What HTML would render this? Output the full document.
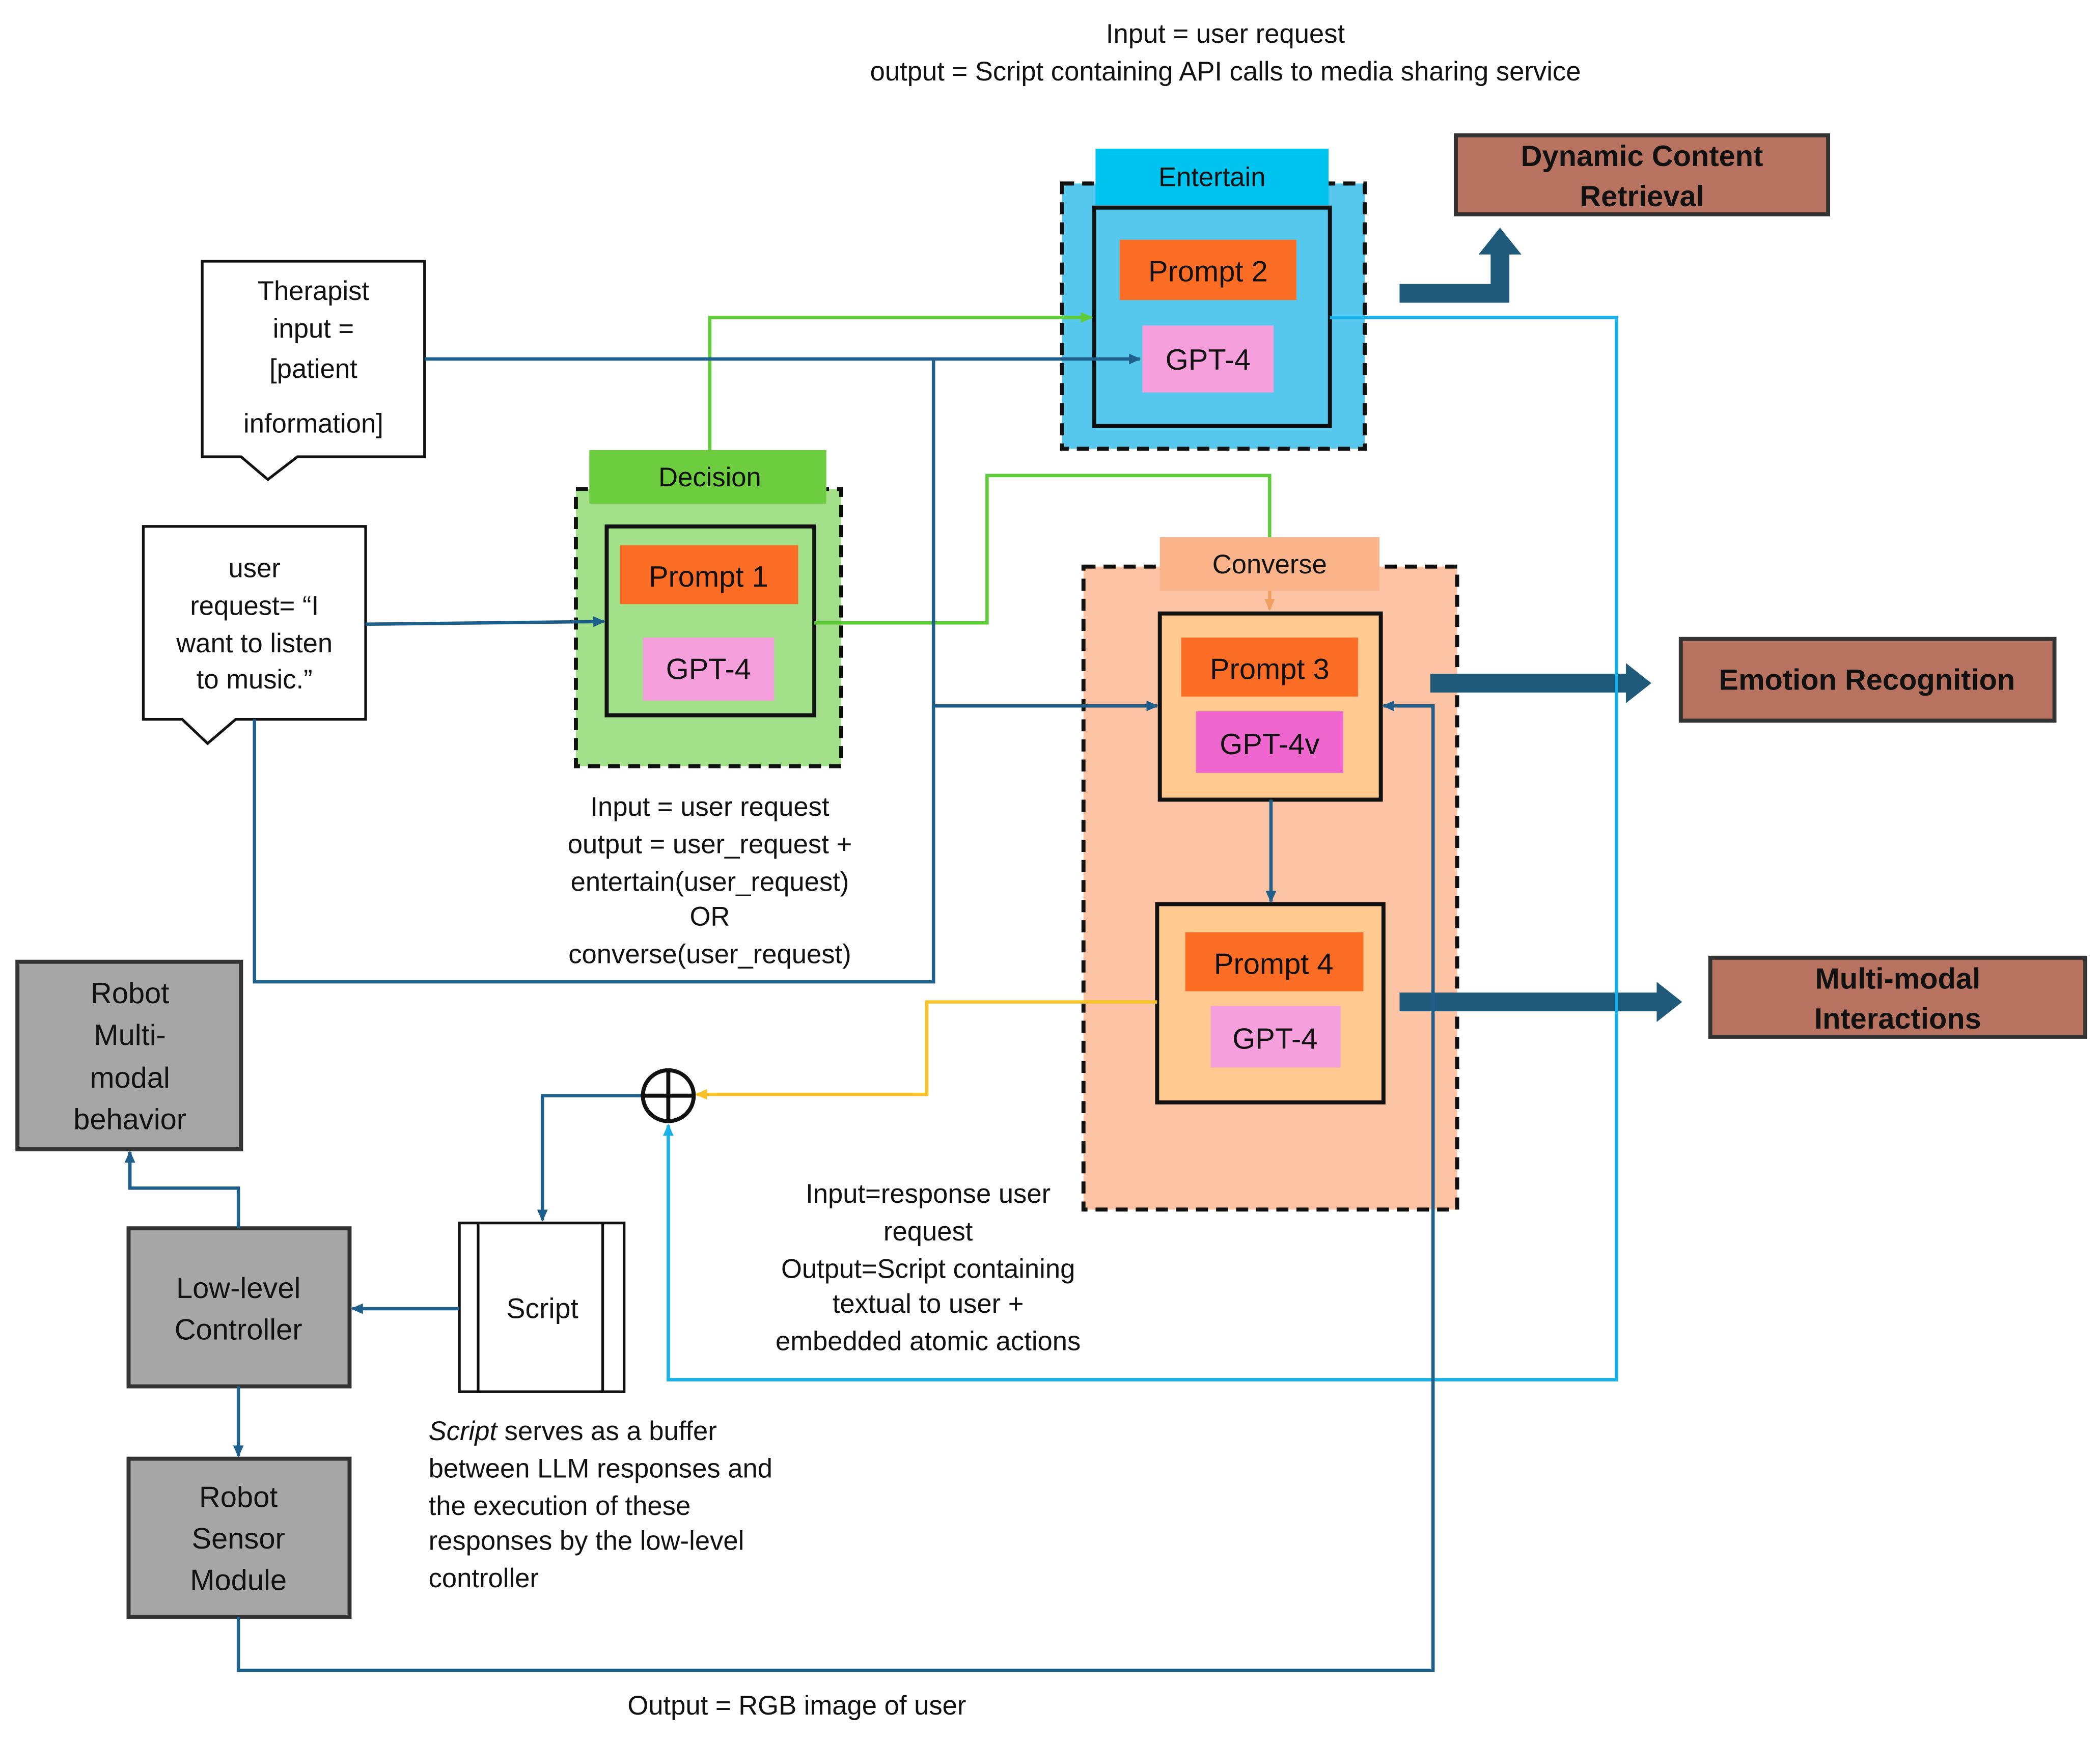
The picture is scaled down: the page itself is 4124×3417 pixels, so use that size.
<!DOCTYPE html>
<html><head><meta charset="utf-8"><style>
html,body{margin:0;padding:0;background:#fff;}
svg{display:block;}
text{font-family:"Liberation Sans",sans-serif;fill:#111;}
</style></head><body>
<svg width="4124" height="3417" viewBox="0 0 1568 1299" preserveAspectRatio="none" xmlns="http://www.w3.org/2000/svg">
<defs>
<marker id="ab" markerWidth="10" markerHeight="10" refX="8" refY="5" orient="auto" markerUnits="userSpaceOnUse"><path d="M0,1 L9,5 L0,9 z" fill="#1f5f8b"/></marker>
<marker id="ag" markerWidth="10" markerHeight="10" refX="8" refY="5" orient="auto" markerUnits="userSpaceOnUse"><path d="M0,1 L9,5 L0,9 z" fill="#5fcc3a"/></marker>
<marker id="al" markerWidth="10" markerHeight="10" refX="8" refY="5" orient="auto" markerUnits="userSpaceOnUse"><path d="M0,1 L9,5 L0,9 z" fill="#1ab0e8"/></marker>
<marker id="ay" markerWidth="10" markerHeight="10" refX="8" refY="5" orient="auto" markerUnits="userSpaceOnUse"><path d="M0,1 L9,5 L0,9 z" fill="#f8c12a"/></marker>
<marker id="ao" markerWidth="10" markerHeight="10" refX="8" refY="5" orient="auto" markerUnits="userSpaceOnUse"><path d="M0,1 L9,5 L0,9 z" fill="#f0a060"/></marker>
</defs>
<rect width="1568" height="1299" fill="#fff"/>
<text x="915" y="32" font-size="20" text-anchor="middle">Input = user request</text>
<text x="915" y="60" font-size="20" text-anchor="middle">output = Script containing API calls to media sharing service</text>

<!-- Entertain -->
<rect x="793" y="137" width="226" height="198" fill="#56c8ee" stroke="#111" stroke-width="3" stroke-dasharray="9,6"/>
<rect x="818" y="111" width="174" height="42" fill="#00c4f0"/>
<text x="905" y="139" font-size="20" text-anchor="middle">Entertain</text>
<rect x="817" y="155" width="176" height="163" fill="#56c8ee" stroke="#111" stroke-width="3"/>
<rect x="836" y="179" width="132" height="45" fill="#fb6c25"/>
<text x="902" y="210" font-size="22" text-anchor="middle">Prompt 2</text>
<rect x="853" y="243" width="98" height="50" fill="#f5a0dc"/>
<text x="902" y="276" font-size="22" text-anchor="middle">GPT-4</text>

<!-- Dynamic -->
<rect x="1087" y="101" width="278" height="59" fill="#b87360" stroke="#333" stroke-width="3"/>
<text x="1226" y="124" font-size="22" font-weight="bold" text-anchor="middle">Dynamic Content</text>
<text x="1226" y="154" font-size="22" font-weight="bold" text-anchor="middle">Retrieval</text>
<path d="M1045,212 L1113,212 L1113,190 L1104,190 L1120,170 L1136,190 L1127,190 L1127,226 L1045,226 z" fill="#1f5a7a"/>

<!-- Therapist callout -->
<path d="M151,195 L317,195 L317,341 L222,341 L200,358 L180,341 L151,341 z" fill="#fff" stroke="#111" stroke-width="2"/>
<text x="234" y="224" font-size="20" text-anchor="middle">Therapist</text>
<text x="234" y="252" font-size="20" text-anchor="middle">input =</text>
<text x="234" y="282" font-size="20" text-anchor="middle">[patient</text>
<text x="234" y="323" font-size="20" text-anchor="middle">information]</text>

<!-- user request callout -->
<path d="M107,393 L273,393 L273,537 L176,537 L155,555 L136,537 L107,537 z" fill="#fff" stroke="#111" stroke-width="2"/>
<text x="190" y="431" font-size="20" text-anchor="middle">user</text>
<text x="190" y="459" font-size="20" text-anchor="middle">request= “I</text>
<text x="190" y="487" font-size="20" text-anchor="middle">want to listen</text>
<text x="190" y="514" font-size="20" text-anchor="middle">to music.”</text>

<!-- Decision -->
<rect x="430" y="365" width="198" height="207" fill="#a3e08a" stroke="#111" stroke-width="3" stroke-dasharray="9,6"/>
<rect x="440" y="336" width="177" height="40" fill="#6ccd3e"/>
<text x="530" y="363" font-size="20" text-anchor="middle">Decision</text>
<rect x="453" y="393" width="155" height="141" fill="#a3e08a" stroke="#111" stroke-width="3"/>
<rect x="463" y="407" width="133" height="44" fill="#fb6c25"/>
<text x="529" y="438" font-size="22" text-anchor="middle">Prompt 1</text>
<rect x="480" y="476" width="98" height="47" fill="#f5a0dc"/>
<text x="529" y="507" font-size="22" text-anchor="middle">GPT-4</text>
<text x="530" y="609" font-size="20" text-anchor="middle">Input = user request</text>
<text x="530" y="637" font-size="20" text-anchor="middle">output = user_request +</text>
<text x="530" y="665" font-size="20" text-anchor="middle">entertain(user_request)</text>
<text x="530" y="691" font-size="20" text-anchor="middle">OR</text>
<text x="530" y="719" font-size="20" text-anchor="middle">converse(user_request)</text>

<!-- Converse -->
<rect x="809" y="423" width="279" height="480" fill="#fcc4a4" stroke="#111" stroke-width="3" stroke-dasharray="9,6"/>
<rect x="866" y="401" width="164" height="40" fill="#fbb48a"/>
<text x="948" y="428" font-size="20" text-anchor="middle">Converse</text>
<rect x="866" y="458" width="165" height="139" fill="#ffc98f" stroke="#111" stroke-width="3"/>
<rect x="882" y="476" width="132" height="44" fill="#fb6c25"/>
<text x="948" y="507" font-size="22" text-anchor="middle">Prompt 3</text>
<rect x="893" y="531" width="110" height="46" fill="#ef66cf"/>
<text x="948" y="563" font-size="22" text-anchor="middle">GPT-4v</text>
<rect x="864" y="675" width="169" height="148" fill="#ffc98f" stroke="#111" stroke-width="3"/>
<rect x="885" y="696" width="133" height="44" fill="#fb6c25"/>
<text x="951" y="727" font-size="22" text-anchor="middle">Prompt 4</text>
<rect x="904" y="751" width="97" height="46" fill="#f5a0dc"/>
<text x="952" y="783" font-size="22" text-anchor="middle">GPT-4</text>
<text x="693" y="898" font-size="20" text-anchor="middle">Input=response user</text>
<text x="693" y="926" font-size="20" text-anchor="middle">request</text>
<text x="693" y="954" font-size="20" text-anchor="middle">Output=Script containing</text>
<text x="693" y="980" font-size="20" text-anchor="middle">textual to user +</text>
<text x="693" y="1008" font-size="20" text-anchor="middle">embedded atomic actions</text>

<!-- Emotion / multimodal -->
<rect x="1255" y="477" width="279" height="61" fill="#b87360" stroke="#333" stroke-width="3"/>
<text x="1394" y="515" font-size="22" font-weight="bold" text-anchor="middle">Emotion Recognition</text>
<path d="M1068,503 L1214,503 L1214,495 L1233,510 L1214,525 L1214,517 L1068,517 z" fill="#1f5a7a"/>
<rect x="1277" y="715" width="280" height="59" fill="#b87360" stroke="#333" stroke-width="3"/>
<text x="1417" y="738" font-size="22" font-weight="bold" text-anchor="middle">Multi-modal</text>
<text x="1417" y="768" font-size="22" font-weight="bold" text-anchor="middle">Interactions</text>
<path d="M1045,741 L1237,741 L1237,733 L1256,748 L1237,763 L1237,755 L1045,755 z" fill="#1f5a7a"/>

<!-- gray boxes -->
<rect x="13" y="718" width="167" height="140" fill="#a6a6a6" stroke="#333" stroke-width="3"/>
<text x="97" y="749" font-size="22" text-anchor="middle">Robot</text>
<text x="97" y="780" font-size="22" text-anchor="middle">Multi-</text>
<text x="97" y="812" font-size="22" text-anchor="middle">modal</text>
<text x="97" y="843" font-size="22" text-anchor="middle">behavior</text>
<rect x="96" y="917" width="165" height="118" fill="#a6a6a6" stroke="#333" stroke-width="3"/>
<text x="178" y="969" font-size="22" text-anchor="middle">Low-level</text>
<text x="178" y="1000" font-size="22" text-anchor="middle">Controller</text>
<rect x="96" y="1089" width="165" height="118" fill="#a6a6a6" stroke="#333" stroke-width="3"/>
<text x="178" y="1125" font-size="22" text-anchor="middle">Robot</text>
<text x="178" y="1156" font-size="22" text-anchor="middle">Sensor</text>
<text x="178" y="1187" font-size="22" text-anchor="middle">Module</text>

<!-- Script -->
<rect x="343" y="913" width="123" height="126" fill="#fff" stroke="#111" stroke-width="2"/>
<line x1="357" y1="913" x2="357" y2="1039" stroke="#111" stroke-width="2"/>
<line x1="450" y1="913" x2="450" y2="1039" stroke="#111" stroke-width="2"/>
<text x="405" y="984" font-size="21" text-anchor="middle">Script</text>
<text x="320" y="1075" font-size="20"><tspan font-style="italic">Script</tspan> serves as a buffer</text>
<text x="320" y="1103" font-size="20">between LLM responses and</text>
<text x="320" y="1131" font-size="20">the execution of these</text>
<text x="320" y="1157" font-size="20">responses by the low-level</text>
<text x="320" y="1185" font-size="20">controller</text>
<text x="595" y="1280" font-size="20" text-anchor="middle">Output = RGB image of user</text>

<!-- connectors -->
<g fill="none" stroke-width="2.5">
<path d="M530,336 L530,237 L815,237" stroke="#5fcc3a" marker-end="url(#ag)"/>
<path d="M608,465 L737,465 L737,355 L948,355 L948,401" stroke="#5fcc3a"/>
<path d="M948,441 L948,455" stroke="#f0a060" marker-end="url(#ao)"/>
<path d="M317,268 L851,268" stroke="#1f5f8b" marker-end="url(#ab)"/>
<path d="M697,268 L697,527 L864,527" stroke="#1f5f8b" marker-end="url(#ab)"/>
<path d="M190,537 L190,733 L697,733 L697,527" stroke="#1f5f8b"/>
<path d="M273,466 L451,464" stroke="#1f5f8b" marker-end="url(#ab)"/>
<path d="M993,237 L1207,237 L1207,1030 L499,1030 L499,840" stroke="#1ab0e8" marker-end="url(#al)"/>
<path d="M178,1207 L178,1247 L1070,1247 L1070,527 L1033,527" stroke="#1f5f8b" marker-end="url(#ab)"/>
<path d="M864,748 L692,748 L692,817 L520,817" stroke="#f8c12a" marker-end="url(#ay)"/>
<path d="M480,818 L405,818 L405,911" stroke="#1f5f8b" marker-end="url(#ab)"/>
<path d="M343,977 L263,977" stroke="#1f5f8b" marker-end="url(#ab)"/>
<path d="M178,917 L178,887 L97,887 L97,860" stroke="#1f5f8b" marker-end="url(#ab)"/>
<path d="M178,1035 L178,1087" stroke="#1f5f8b" marker-end="url(#ab)"/>
<path d="M949,597 L949,673" stroke="#1f5f8b" marker-end="url(#ab)"/>
</g>
<circle cx="499" cy="818" r="19" fill="#fff" stroke="#111" stroke-width="3"/>
<line x1="480" y1="818" x2="518" y2="818" stroke="#111" stroke-width="3"/>
<line x1="499" y1="799" x2="499" y2="837" stroke="#111" stroke-width="3"/>
</svg>
</body></html>
